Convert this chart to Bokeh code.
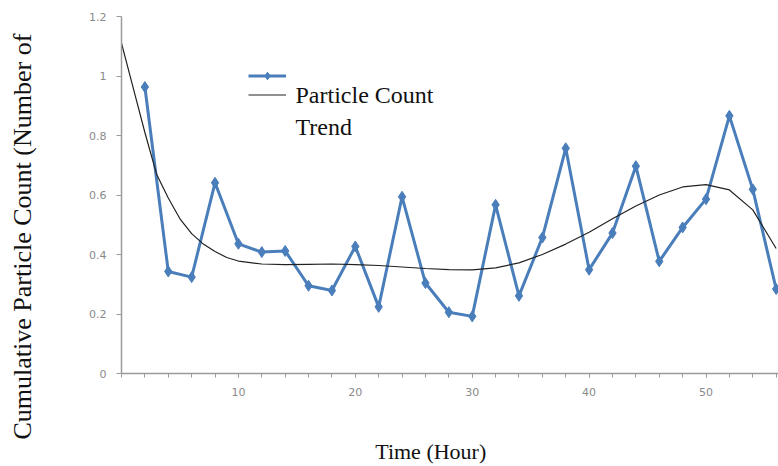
from bokeh.plotting import figure
from bokeh.models import (Range1d, FixedTicker, CustomJSTickFormatter, Label,
                          Legend, LegendItem, Title)
from bokeh.core.properties import value
from bokeh.embed import file_html
from bokeh.resources import INLINE

hours = [2, 4, 6, 8, 10, 12, 14, 16, 18, 20, 22, 24, 26, 28,
         30, 32, 34, 36, 38, 40, 42, 44, 46, 48, 50, 52, 54, 56]
particle_count = [0.963, 0.343, 0.324, 0.641, 0.436, 0.408, 0.412, 0.295,
                  0.279, 0.427, 0.224, 0.594, 0.304, 0.206, 0.192, 0.567,
                  0.261, 0.457, 0.757, 0.349, 0.472, 0.697, 0.377, 0.491,
                  0.586, 0.866, 0.619, 0.284]

trend_hours = [0, 1, 2, 3, 4, 5, 6, 7, 8, 9, 10, 12, 14, 16, 18, 20, 22,
               24, 26, 28, 30, 32, 34, 36, 38, 40, 42, 44, 46, 48, 50, 52,
               54, 56]
trend_values = [1.11, 0.96, 0.81, 0.67, 0.59, 0.52, 0.47, 0.435, 0.41, 0.39,
                0.378, 0.368, 0.366, 0.367, 0.368, 0.366, 0.363, 0.358,
                0.353, 0.349, 0.348, 0.355, 0.372, 0.400, 0.435, 0.475,
                0.52, 0.563, 0.60, 0.627, 0.635, 0.617, 0.55, 0.42]

y_ticks = [0, 0.2, 0.4, 0.6, 0.8, 1, 1.2]
x_ticks = [10, 20, 30, 40, 50]
x_minor_ticks = list(range(0, 58, 2))

series_label = "Particle Count"
trend_label = "Trend"
x_title = "Time (Hour)"
y_title = "Cumulative Particle Count (Number of"

BLUE = "#4a7ebb"
AXIS = "#9a9a9a"
NBSP = "\u00a0"
SERIF = "Liberation Serif"

p = figure(width=778, height=466, output_backend="svg", toolbar_location=None,
           x_range=Range1d(0, 56.2), y_range=Range1d(0, 1.2),
           min_border_left=121, min_border_right=0, min_border_top=16,
           min_border_bottom=92)
p.outline_line_color = None
p.xgrid.visible = False
p.ygrid.visible = False
p.background_fill_color = "white"
p.border_fill_color = "white"

r_line = p.line(hours, particle_count, line_color=BLUE, line_width=3)
r_pts = p.scatter(hours, particle_count, marker="diamond", size=11,
                  fill_color=BLUE, line_color=BLUE)
r_trend = p.line(trend_hours, trend_values, line_color="#222222", line_width=1.2)

for ax in (p.xaxis[0], p.yaxis[0]):
    ax.axis_line_color = AXIS
    ax.axis_line_width = 1.5
    ax.major_tick_line_color = AXIS
    ax.minor_tick_line_color = AXIS
    ax.major_tick_in = 0
    ax.minor_tick_in = 0
    ax.major_label_text_font = "DejaVu Sans"
    ax.major_label_text_font_size = "11px"
    ax.major_label_text_color = "#8a8a8a"
    ax.axis_label_text_font = SERIF
    ax.axis_label_text_font_style = "normal"
    ax.axis_label_text_color = "#111111"

p.yaxis.ticker = FixedTicker(ticks=y_ticks)
p.yaxis.formatter = CustomJSTickFormatter(code="return tick.toString();")
p.yaxis.major_tick_out = 5
p.yaxis.minor_tick_out = 0
p.yaxis.major_label_standoff = 10
# blank axis label only reserves room between tick labels and the side title
p.yaxis.axis_label = NBSP
p.yaxis.axis_label_text_font_size = "10px"
p.yaxis.axis_label_standoff = 31

p.xaxis.ticker = FixedTicker(ticks=x_ticks, minor_ticks=x_minor_ticks)
p.xaxis.major_tick_out = 4
p.xaxis.minor_tick_out = 4
p.xaxis.major_label_standoff = 10
p.xaxis.axis_label = x_title + NBSP * 7
p.xaxis.axis_label_text_font_size = "22px"
p.xaxis.axis_label_standoff = 40

# y title as a side title, starting below the frame bottom like the original
p.add_layout(Title(text=y_title, align="left", offset=-66, standoff=10,
                   text_font=SERIF, text_font_size="26px",
                   text_font_style="normal", text_color="#111111"), "left")

# legend glyphs (labels drawn separately, as in the original the texts sit offset)
legend = Legend(items=[LegendItem(label=value(" "), renderers=[r_line, r_pts]),
                       LegendItem(label=value(" "), renderers=[r_trend])],
                location=(127, 269), glyph_width=38, glyph_height=19,
                label_height=19, label_width=1, label_text_font_size="1px",
                spacing=0, padding=0, margin=0,
                background_fill_alpha=0, border_line_alpha=0)
p.add_layout(legend)

p.add_layout(Label(x=(295 - 121) / 11.69, y=(374 - 95) / 298.3, text=series_label,
                   text_font=SERIF, text_font_size="24px", text_color="#111111",
                   text_baseline="middle", text_align="left"))
p.add_layout(Label(x=(295 - 121) / 11.69, y=(374 - 127) / 298.3, text=trend_label,
                   text_font=SERIF, text_font_size="24px", text_color="#111111",
                   text_baseline="middle", text_align="left"))

open("out.html", "w").write(file_html(p, INLINE))
